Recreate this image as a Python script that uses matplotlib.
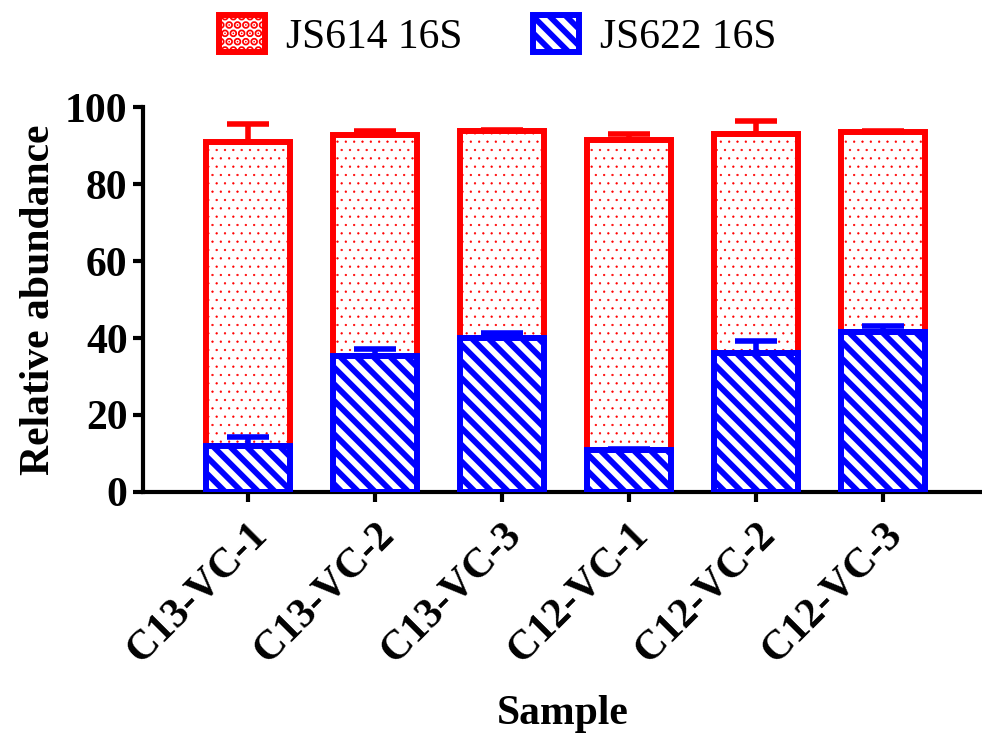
import numpy as np
import matplotlib
matplotlib.use("Agg")
import matplotlib.pyplot as plt

# values
samples = ["C13-VC-1", "C13-VC-2", "C13-VC-3", "C12-VC-1", "C12-VC-2", "C12-VC-3"]
js622 = [12.0, 35.2, 40.1, 10.9, 36.0, 41.6]
js622_err = [2.2, 1.9, 1.3, 0.3, 3.3, 1.5]
js614 = [79.0, 57.5, 53.7, 80.5, 57.0, 52.0]   # stacked on top of JS622
js614_err = [4.6, 1.1, 0.3, 1.5, 3.4, 0.3]

RED = "#ff0000"
BLUE = "#0000ff"

plt.rcParams["font.family"] = ["Liberation Serif", "DejaVu Serif"]
plt.rcParams["font.size"] = 30

fig = plt.figure(figsize=(9.82, 7.33), dpi=100)
ax = fig.add_axes([0.1456, 0.3288, 0.8544, 0.5252])

x = np.arange(len(samples))
width = 0.66
zeros = np.zeros(len(samples))

plt.rcParams["hatch.linewidth"] = 0.4
red = ax.bar(x, js614, width, bottom=js622, color="white", edgecolor=RED,
             linewidth=4.3, hatch="..", zorder=2, label="JS614 16S")
plt.rcParams["hatch.linewidth"] = 4.2
blue = ax.bar(x, js622, width, color="white", edgecolor=BLUE,
              linewidth=4.3, hatch="\\\\", zorder=3, label="JS622 16S")
for p in red:
    if hasattr(p, "set_hatch_linewidth"):
        p.set_hatch_linewidth(0.4)
for p in blue:
    if hasattr(p, "set_hatch_linewidth"):
        p.set_hatch_linewidth(4.2)

totals = np.array(js622) + np.array(js614)
ax.errorbar(x, totals, yerr=[zeros, js614_err], fmt="none", ecolor=RED,
            elinewidth=4, capsize=15, capthick=4, zorder=4)
ax.errorbar(x, js622, yerr=[zeros, js622_err], fmt="none", ecolor=BLUE,
            elinewidth=4, capsize=15, capthick=4, zorder=4)

ax.set_xlim(-0.827, 5.78)
ax.set_ylim(0, 100)
ax.set_yticks([0, 20, 40, 60, 80, 100])
ax.set_xticks(x)
ax.set_xticklabels(samples, rotation=45, ha="right", rotation_mode="anchor",
                   fontweight="bold")
for t in ax.get_yticklabels():
    t.set_fontweight("bold")

for s in ["top", "right"]:
    ax.spines[s].set_visible(False)
for s in ["left", "bottom"]:
    ax.spines[s].set_linewidth(3)
ax.tick_params(axis="both", direction="out", length=7, width=3, pad=4)
ax.tick_params(axis="x", pad=10)

ax.set_ylabel("Relative abundance", fontweight="bold", labelpad=5)
ax.set_xlabel("Sample", fontweight="bold", labelpad=18)

fig.legend(handles=[red, blue], loc="center", bbox_to_anchor=(0.507, 0.951),
           ncol=2, frameon=False, handlelength=1.1, handleheight=1.0,
           handletextpad=0.5, columnspacing=1.7)

fig.savefig("out.png", dpi=100)
